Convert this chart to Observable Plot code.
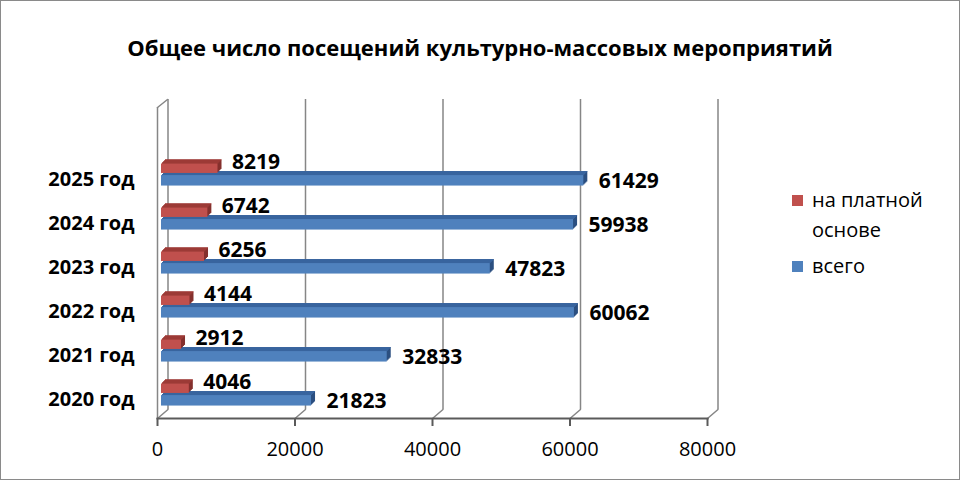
<!DOCTYPE html>
<html>
<head>
<meta charset="utf-8">
<script src="https://cdn.jsdelivr.net/npm/d3@7"></script>
<script src="https://cdn.jsdelivr.net/npm/@observablehq/plot@0.6"></script>
<style>
  html, body { margin: 0; padding: 0; background: #fff; }
  #wrap { position: relative; width: 960px; height: 480px; overflow: hidden; font-family: 'Open Sans', sans-serif; }
  #border { position: absolute; left: 0; top: 0; width: 960px; height: 480px; box-sizing: border-box; border: 1px solid #8a8a8a; pointer-events: none; }
  #title { position: absolute; left: 0; width: 960px; top: 30px; text-align: center; font-size: 22px; font-weight: bold; color: #000; line-height: 34px; }
  #chart { position: absolute; left: 0; top: 0; }
  #legend { position: absolute; left: 792px; top: 185px; font-size: 20px; color: #000; }
  .item { position: relative; padding-left: 20px; line-height: 30px; width: 125px; margin-bottom: 6px; }
  .sw { position: absolute; left: 0; top: 10px; width: 11px; height: 11px; }
</style>
</head>
<body>
<div id="wrap">
  <div id="chart"></div>
  <div id="title">Общее число посещений культурно-массовых мероприятий</div>
  <div id="legend"></div>
  <div id="border"></div>
</div>
<script>
const years = ["2020 год", "2021 год", "2022 год", "2023 год", "2024 год", "2025 год"];
const paid = [4046, 2912, 4144, 6256, 6742, 8219];
const total = [21823, 32833, 60062, 47823, 59938, 61429];
const xTicks = [0, 20000, 40000, 60000, 80000];
const seriesNames = ["на платной основе", "всего"];
const seriesColors = {
  paid:  {front: "#c0504d", top: "#a8403d", side: "#84302d"},
  total: {front: "#4f81bd", top: "#3d6aa5", side: "#2b4f80"}
};

const data = years.map((y, i) => ({year: y, paid: paid[i], total: total[i]}));

const band = 44.5;
const frameH = 480 - 99 - 62;
const gridColor = "#868686";
const axisColor = "#5a5a5a";
const lineShape = {draw(context, l) { context.moveTo(0, 0); context.lineTo(0, -l); }};

function bar3d(key, insetTop, insetBottom) {
  const c = seriesColors[key];
  const marks = [];
  const ks = [1, 2, 3, 4];
  for (const k of ks) {
    marks.push(Plot.barX(data, {x: key, y: "year", dx: 4 + k, dy: -k, insetTop, insetBottom, fill: c.side}));
  }
  for (const k of ks) {
    marks.push(Plot.barX(data, {x: key, y: "year", dx: 4 + k, dy: -k, insetTop, insetBottom: band - insetTop - 1.3, fill: c.top}));
  }
  marks.push(Plot.barX(data, {x: key, y: "year", dx: 4, insetTop, insetBottom, fill: c.front}));
  return marks;
}

const chart = Plot.plot({
  width: 960,
  height: 480,
  marginLeft: 157,
  marginRight: 253,
  marginTop: 99,
  marginBottom: 62,
  style: {fontFamily: "'Open Sans', sans-serif", background: "transparent", overflow: "visible"},
  x: {domain: [0, 80000]},
  y: {type: "band", domain: years.slice().reverse(), range: [148, 415], padding: 0},
  marks: [
    // back wall gridlines
    Plot.ruleX(xTicks, {x: d => d, dx: 10.5, insetBottom: 9, stroke: gridColor, strokeWidth: 1.5}),
    // left wall front edge
    Plot.ruleX([0], {x: d => d, insetTop: 8, stroke: gridColor, strokeWidth: 1.5}),
    // floor diagonals
    Plot.vector(xTicks, {x: d => d, frameAnchor: "bottom", length: 13.8, rotate: 49.4, anchor: "start", shape: lineShape, stroke: gridColor, strokeWidth: 1.5}),
    // left wall top diagonal
    Plot.vector([0], {x: d => d, frameAnchor: "top", dy: 8, length: 12.8, rotate: 51.3, anchor: "start", shape: lineShape, stroke: gridColor, strokeWidth: 1.5}),
    // front axis line
    Plot.frame({anchor: "bottom", stroke: axisColor, strokeWidth: 2, strokeOpacity: 1}),
    // tick marks
    Plot.ruleX(xTicks, {x: d => d, dy: 8, insetTop: frameH - 8, stroke: axisColor, strokeWidth: 2, strokeOpacity: 1}),
    Plot.axisX({ticks: xTicks, tickFormat: d3.format("d"), tickSize: 0, tickPadding: 23, fontSize: 20, fill: "#000", label: null}),
    Plot.axisY({tickSize: 0, tickPadding: 23, dy: 7, fontSize: 20, fontWeight: "bold", fill: "#000", label: null}),
    ...bar3d("total", 25.05, 8.45),
    ...bar3d("paid", 13.45, 21.05),
    Plot.text(data, {x: "paid", y: "year", dx: 18, dy: -10.5, text: d => String(d.paid), textAnchor: "start", fontSize: 21, fontWeight: "bold", fill: "#000"}),
    Plot.text(data, {x: "total", y: "year", dx: 19, dy: 9, text: d => String(d.total), textAnchor: "start", fontSize: 21, fontWeight: "bold", fill: "#000"})
  ]
});
document.getElementById("chart").appendChild(chart);

const legend = document.getElementById("legend");
[["paid", seriesNames[0]], ["total", seriesNames[1]]].forEach(([k, name]) => {
  const item = document.createElement("div");
  item.className = "item";
  const sw = document.createElement("span");
  sw.className = "sw";
  sw.style.background = seriesColors[k].front;
  item.appendChild(sw);
  item.appendChild(document.createTextNode(name));
  legend.appendChild(item);
});
</script>
</body>
</html>
